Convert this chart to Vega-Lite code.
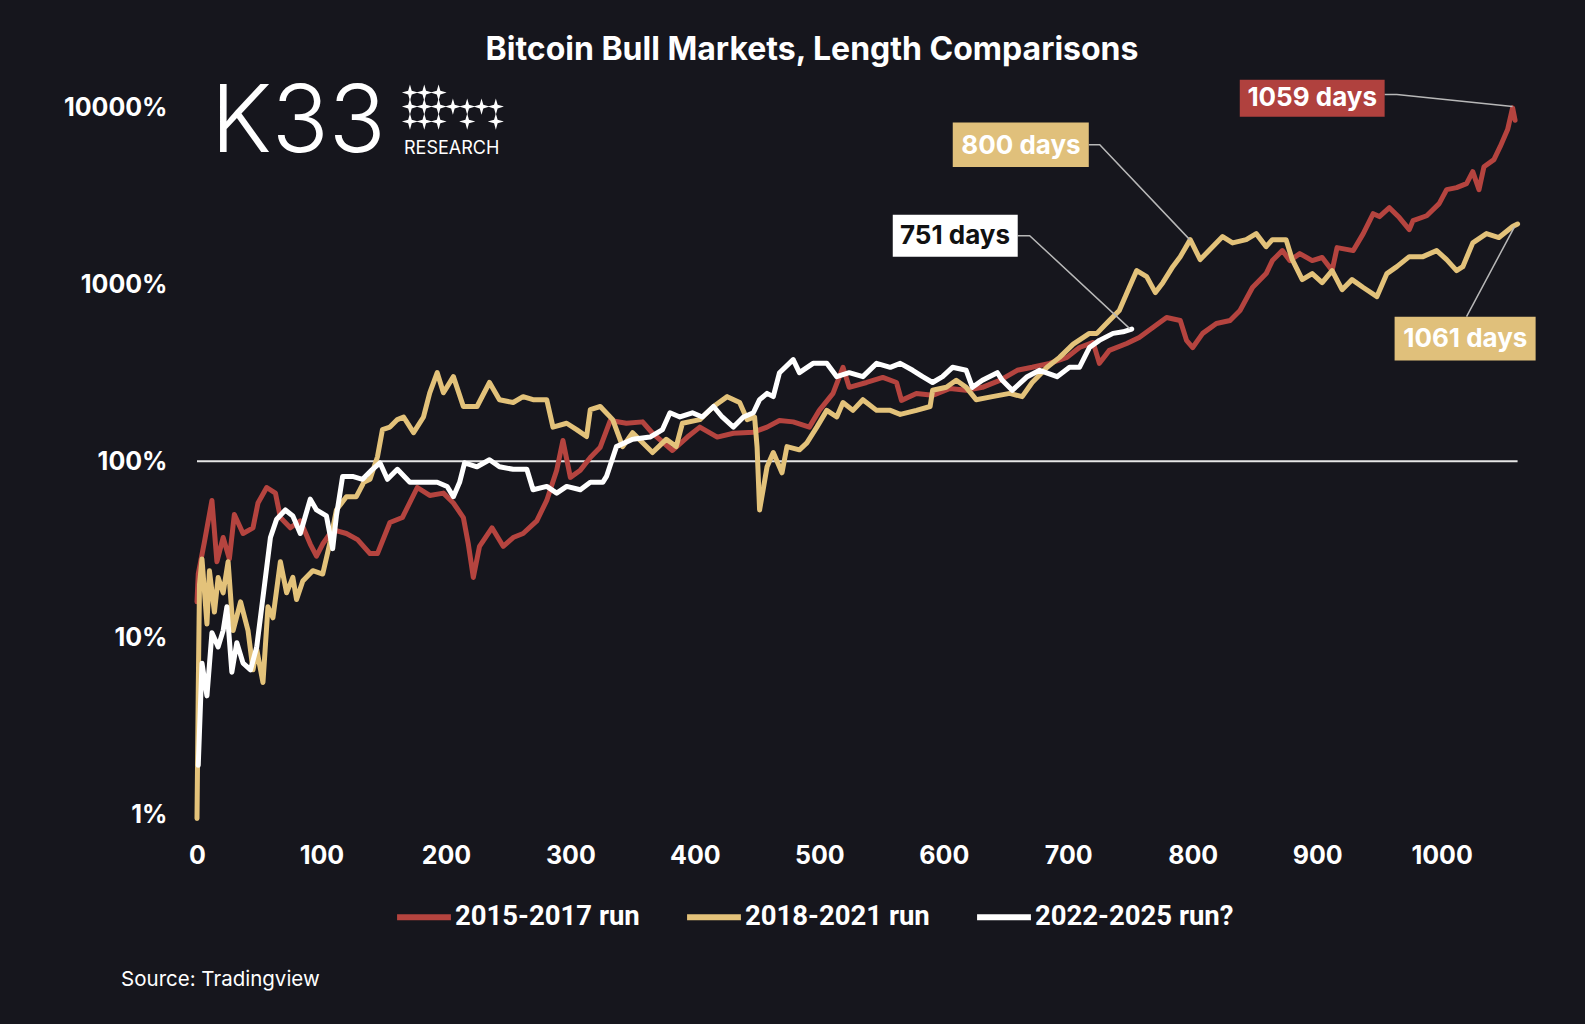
{
"$schema":"https://vega.github.io/schema/vega-lite/v6.json",
"width":1338,"height":760,
"autosize":{"type":"none"},
"padding":{"left":197,"top":82,"right":50,"bottom":182},
"background":"#16161d",
"title":{"text":"Bitcoin Bull Markets, Length Comparisons","color":"#ffffff","font":"Inter","fontSize":32,"fontWeight":"bold","anchor":"middle","frame":"group","dx":-54,"offset":10},
"config":{"view":{"stroke":null}},
"datasets":{
"series":[
{"run":"2015-2017 run","day":0,"pct":16},{"run":"2015-2017 run","day":1,"pct":23},{"run":"2015-2017 run","day":6,"pct":35},{"run":"2015-2017 run","day":12,"pct":60},{"run":"2015-2017 run","day":16,"pct":27},{"run":"2015-2017 run","day":21,"pct":37},{"run":"2015-2017 run","day":26,"pct":28},{"run":"2015-2017 run","day":30,"pct":50},{"run":"2015-2017 run","day":37,"pct":39},{"run":"2015-2017 run","day":45,"pct":42},{"run":"2015-2017 run","day":49,"pct":58},{"run":"2015-2017 run","day":56,"pct":71},{"run":"2015-2017 run","day":63,"pct":66},{"run":"2015-2017 run","day":67,"pct":48},{"run":"2015-2017 run","day":75,"pct":42},{"run":"2015-2017 run","day":83,"pct":46},{"run":"2015-2017 run","day":91,"pct":34},{"run":"2015-2017 run","day":96,"pct":29},{"run":"2015-2017 run","day":101,"pct":34},{"run":"2015-2017 run","day":109,"pct":41},{"run":"2015-2017 run","day":120,"pct":39},{"run":"2015-2017 run","day":129,"pct":36},{"run":"2015-2017 run","day":139,"pct":30},{"run":"2015-2017 run","day":145,"pct":30},{"run":"2015-2017 run","day":155,"pct":45},{"run":"2015-2017 run","day":165,"pct":48},{"run":"2015-2017 run","day":177,"pct":71},{"run":"2015-2017 run","day":187,"pct":64},{"run":"2015-2017 run","day":198,"pct":66},{"run":"2015-2017 run","day":206,"pct":58},{"run":"2015-2017 run","day":214,"pct":48},{"run":"2015-2017 run","day":218,"pct":34},{"run":"2015-2017 run","day":222,"pct":22},{"run":"2015-2017 run","day":227,"pct":33},{"run":"2015-2017 run","day":237,"pct":42},{"run":"2015-2017 run","day":246,"pct":33},{"run":"2015-2017 run","day":254,"pct":37},{"run":"2015-2017 run","day":262,"pct":39},{"run":"2015-2017 run","day":273,"pct":46},{"run":"2015-2017 run","day":281,"pct":60},{"run":"2015-2017 run","day":289,"pct":89},{"run":"2015-2017 run","day":294,"pct":131},{"run":"2015-2017 run","day":300,"pct":81},{"run":"2015-2017 run","day":308,"pct":89},{"run":"2015-2017 run","day":316,"pct":105},{"run":"2015-2017 run","day":324,"pct":120},{"run":"2015-2017 run","day":332,"pct":170},{"run":"2015-2017 run","day":345,"pct":164},{"run":"2015-2017 run","day":358,"pct":167},{"run":"2015-2017 run","day":366,"pct":144},{"run":"2015-2017 run","day":382,"pct":115},{"run":"2015-2017 run","day":394,"pct":137},{"run":"2015-2017 run","day":404,"pct":156},{"run":"2015-2017 run","day":418,"pct":137},{"run":"2015-2017 run","day":431,"pct":144},{"run":"2015-2017 run","day":447,"pct":146},{"run":"2015-2017 run","day":458,"pct":156},{"run":"2015-2017 run","day":468,"pct":170},{"run":"2015-2017 run","day":479,"pct":167},{"run":"2015-2017 run","day":492,"pct":156},{"run":"2015-2017 run","day":500,"pct":194},{"run":"2015-2017 run","day":511,"pct":242},{"run":"2015-2017 run","day":519,"pct":340},{"run":"2015-2017 run","day":524,"pct":262},{"run":"2015-2017 run","day":538,"pct":279},{"run":"2015-2017 run","day":551,"pct":298},{"run":"2015-2017 run","day":562,"pct":279},{"run":"2015-2017 run","day":566,"pct":221},{"run":"2015-2017 run","day":578,"pct":242},{"run":"2015-2017 run","day":591,"pct":236},{"run":"2015-2017 run","day":605,"pct":258},{"run":"2015-2017 run","day":618,"pct":252},{"run":"2015-2017 run","day":631,"pct":262},{"run":"2015-2017 run","day":645,"pct":287},{"run":"2015-2017 run","day":659,"pct":327},{"run":"2015-2017 run","day":671,"pct":340},{"run":"2015-2017 run","day":685,"pct":358},{"run":"2015-2017 run","day":699,"pct":387},{"run":"2015-2017 run","day":709,"pct":440},{"run":"2015-2017 run","day":720,"pct":470},{"run":"2015-2017 run","day":725,"pct":358},{"run":"2015-2017 run","day":733,"pct":424},{"run":"2015-2017 run","day":747,"pct":464},{"run":"2015-2017 run","day":757,"pct":502},{"run":"2015-2017 run","day":768,"pct":571},{"run":"2015-2017 run","day":779,"pct":651},{"run":"2015-2017 run","day":790,"pct":626},{"run":"2015-2017 run","day":795,"pct":483},{"run":"2015-2017 run","day":800,"pct":440},{"run":"2015-2017 run","day":808,"pct":529},{"run":"2015-2017 run","day":819,"pct":602},{"run":"2015-2017 run","day":830,"pct":626},{"run":"2015-2017 run","day":838,"pct":713},{"run":"2015-2017 run","day":848,"pct":962},{"run":"2015-2017 run","day":859,"pct":1153},{"run":"2015-2017 run","day":864,"pct":1366},{"run":"2015-2017 run","day":872,"pct":1556},{"run":"2015-2017 run","day":878,"pct":1366},{"run":"2015-2017 run","day":886,"pct":1496},{"run":"2015-2017 run","day":896,"pct":1366},{"run":"2015-2017 run","day":904,"pct":1422},{"run":"2015-2017 run","day":912,"pct":1199},{"run":"2015-2017 run","day":916,"pct":1618},{"run":"2015-2017 run","day":929,"pct":1556},{"run":"2015-2017 run","day":937,"pct":1941},{"run":"2015-2017 run","day":945,"pct":2518},{"run":"2015-2017 run","day":950,"pct":2423},{"run":"2015-2017 run","day":958,"pct":2723},{"run":"2015-2017 run","day":966,"pct":2392},{"run":"2015-2017 run","day":974,"pct":2045},{"run":"2015-2017 run","day":977,"pct":2300},{"run":"2015-2017 run","day":988,"pct":2450},{"run":"2015-2017 run","day":998,"pct":2870},{"run":"2015-2017 run","day":1004,"pct":3444},{"run":"2015-2017 run","day":1012,"pct":3533},{"run":"2015-2017 run","day":1020,"pct":3722},{"run":"2015-2017 run","day":1025,"pct":4355},{"run":"2015-2017 run","day":1030,"pct":3444},{"run":"2015-2017 run","day":1034,"pct":4645},{"run":"2015-2017 run","day":1042,"pct":5093},{"run":"2015-2017 run","day":1047,"pct":6030},{"run":"2015-2017 run","day":1053,"pct":7530},{"run":"2015-2017 run","day":1057,"pct":10000},{"run":"2015-2017 run","day":1059,"pct":8500},
{"run":"2018-2021 run","day":0,"pct":0.95},{"run":"2018-2021 run","day":1,"pct":5},{"run":"2018-2021 run","day":2,"pct":20},{"run":"2018-2021 run","day":4,"pct":28},{"run":"2018-2021 run","day":8,"pct":12},{"run":"2018-2021 run","day":10,"pct":24},{"run":"2018-2021 run","day":14,"pct":14},{"run":"2018-2021 run","day":17,"pct":22},{"run":"2018-2021 run","day":21,"pct":18},{"run":"2018-2021 run","day":25,"pct":27},{"run":"2018-2021 run","day":29,"pct":11},{"run":"2018-2021 run","day":35,"pct":16},{"run":"2018-2021 run","day":41,"pct":11},{"run":"2018-2021 run","day":45,"pct":6.6},{"run":"2018-2021 run","day":48,"pct":8.6},{"run":"2018-2021 run","day":53,"pct":5.6},{"run":"2018-2021 run","day":57,"pct":15},{"run":"2018-2021 run","day":61,"pct":13},{"run":"2018-2021 run","day":67,"pct":27},{"run":"2018-2021 run","day":72,"pct":18},{"run":"2018-2021 run","day":77,"pct":22},{"run":"2018-2021 run","day":80,"pct":16.5},{"run":"2018-2021 run","day":85,"pct":21},{"run":"2018-2021 run","day":93,"pct":24},{"run":"2018-2021 run","day":101,"pct":23},{"run":"2018-2021 run","day":107,"pct":35},{"run":"2018-2021 run","day":112,"pct":53},{"run":"2018-2021 run","day":120,"pct":63},{"run":"2018-2021 run","day":128,"pct":63},{"run":"2018-2021 run","day":134,"pct":76},{"run":"2018-2021 run","day":139,"pct":79},{"run":"2018-2021 run","day":145,"pct":106},{"run":"2018-2021 run","day":149,"pct":151},{"run":"2018-2021 run","day":155,"pct":156},{"run":"2018-2021 run","day":161,"pct":172},{"run":"2018-2021 run","day":166,"pct":178},{"run":"2018-2021 run","day":174,"pct":145},{"run":"2018-2021 run","day":182,"pct":178},{"run":"2018-2021 run","day":187,"pct":244},{"run":"2018-2021 run","day":193,"pct":317},{"run":"2018-2021 run","day":198,"pct":244},{"run":"2018-2021 run","day":206,"pct":301},{"run":"2018-2021 run","day":214,"pct":204},{"run":"2018-2021 run","day":225,"pct":204},{"run":"2018-2021 run","day":235,"pct":279},{"run":"2018-2021 run","day":243,"pct":223},{"run":"2018-2021 run","day":254,"pct":215},{"run":"2018-2021 run","day":262,"pct":232},{"run":"2018-2021 run","day":270,"pct":223},{"run":"2018-2021 run","day":281,"pct":223},{"run":"2018-2021 run","day":286,"pct":156},{"run":"2018-2021 run","day":297,"pct":164},{"run":"2018-2021 run","day":305,"pct":151},{"run":"2018-2021 run","day":313,"pct":138},{"run":"2018-2021 run","day":316,"pct":196},{"run":"2018-2021 run","day":324,"pct":204},{"run":"2018-2021 run","day":334,"pct":172},{"run":"2018-2021 run","day":342,"pct":121},{"run":"2018-2021 run","day":350,"pct":145},{"run":"2018-2021 run","day":366,"pct":112},{"run":"2018-2021 run","day":377,"pct":133},{"run":"2018-2021 run","day":385,"pct":121},{"run":"2018-2021 run","day":390,"pct":164},{"run":"2018-2021 run","day":404,"pct":172},{"run":"2018-2021 run","day":415,"pct":204},{"run":"2018-2021 run","day":426,"pct":232},{"run":"2018-2021 run","day":436,"pct":215},{"run":"2018-2021 run","day":442,"pct":172},{"run":"2018-2021 run","day":448,"pct":178},{"run":"2018-2021 run","day":450,"pct":120},{"run":"2018-2021 run","day":452,"pct":53},{"run":"2018-2021 run","day":455,"pct":70},{"run":"2018-2021 run","day":458,"pct":93},{"run":"2018-2021 run","day":463,"pct":112},{"run":"2018-2021 run","day":470,"pct":86},{"run":"2018-2021 run","day":474,"pct":121},{"run":"2018-2021 run","day":484,"pct":116},{"run":"2018-2021 run","day":490,"pct":127},{"run":"2018-2021 run","day":498,"pct":156},{"run":"2018-2021 run","day":506,"pct":194},{"run":"2018-2021 run","day":514,"pct":178},{"run":"2018-2021 run","day":519,"pct":215},{"run":"2018-2021 run","day":527,"pct":194},{"run":"2018-2021 run","day":535,"pct":223},{"run":"2018-2021 run","day":546,"pct":194},{"run":"2018-2021 run","day":557,"pct":194},{"run":"2018-2021 run","day":565,"pct":184},{"run":"2018-2021 run","day":578,"pct":194},{"run":"2018-2021 run","day":589,"pct":204},{"run":"2018-2021 run","day":591,"pct":252},{"run":"2018-2021 run","day":602,"pct":262},{"run":"2018-2021 run","day":610,"pct":287},{"run":"2018-2021 run","day":618,"pct":262},{"run":"2018-2021 run","day":626,"pct":223},{"run":"2018-2021 run","day":639,"pct":232},{"run":"2018-2021 run","day":653,"pct":242},{"run":"2018-2021 run","day":663,"pct":232},{"run":"2018-2021 run","day":671,"pct":279},{"run":"2018-2021 run","day":683,"pct":340},{"run":"2018-2021 run","day":693,"pct":387},{"run":"2018-2021 run","day":704,"pct":460},{"run":"2018-2021 run","day":717,"pct":529},{"run":"2018-2021 run","day":723,"pct":529},{"run":"2018-2021 run","day":733,"pct":626},{"run":"2018-2021 run","day":741,"pct":713},{"run":"2018-2021 run","day":749,"pct":962},{"run":"2018-2021 run","day":755,"pct":1199},{"run":"2018-2021 run","day":763,"pct":1109},{"run":"2018-2021 run","day":770,"pct":900},{"run":"2018-2021 run","day":776,"pct":1025},{"run":"2018-2021 run","day":784,"pct":1262},{"run":"2018-2021 run","day":790,"pct":1438},{"run":"2018-2021 run","day":798,"pct":1795},{"run":"2018-2021 run","day":806,"pct":1383},{"run":"2018-2021 run","day":816,"pct":1638},{"run":"2018-2021 run","day":824,"pct":1867},{"run":"2018-2021 run","day":832,"pct":1720},{"run":"2018-2021 run","day":843,"pct":1795},{"run":"2018-2021 run","day":851,"pct":1941},{"run":"2018-2021 run","day":859,"pct":1638},{"run":"2018-2021 run","day":864,"pct":1795},{"run":"2018-2021 run","day":875,"pct":1795},{"run":"2018-2021 run","day":880,"pct":1383},{"run":"2018-2021 run","day":888,"pct":1066},{"run":"2018-2021 run","day":896,"pct":1153},{"run":"2018-2021 run","day":904,"pct":1025},{"run":"2018-2021 run","day":912,"pct":1199},{"run":"2018-2021 run","day":920,"pct":935},{"run":"2018-2021 run","day":928,"pct":1066},{"run":"2018-2021 run","day":937,"pct":962},{"run":"2018-2021 run","day":948,"pct":855},{"run":"2018-2021 run","day":956,"pct":1153},{"run":"2018-2021 run","day":964,"pct":1262},{"run":"2018-2021 run","day":974,"pct":1438},{"run":"2018-2021 run","day":985,"pct":1438},{"run":"2018-2021 run","day":996,"pct":1556},{"run":"2018-2021 run","day":1004,"pct":1383},{"run":"2018-2021 run","day":1012,"pct":1199},{"run":"2018-2021 run","day":1017,"pct":1262},{"run":"2018-2021 run","day":1025,"pct":1720},{"run":"2018-2021 run","day":1036,"pct":1941},{"run":"2018-2021 run","day":1046,"pct":1845},{"run":"2018-2021 run","day":1057,"pct":2128},{"run":"2018-2021 run","day":1061,"pct":2200},
{"run":"2022-2025 run?","day":1,"pct":1.9},{"run":"2022-2025 run?","day":4,"pct":7.2},{"run":"2022-2025 run?","day":8,"pct":4.7},{"run":"2022-2025 run?","day":12,"pct":10.7},{"run":"2022-2025 run?","day":17,"pct":8.9},{"run":"2022-2025 run?","day":21,"pct":11},{"run":"2022-2025 run?","day":24,"pct":15},{"run":"2022-2025 run?","day":28,"pct":6.4},{"run":"2022-2025 run?","day":32,"pct":9.4},{"run":"2022-2025 run?","day":37,"pct":7.2},{"run":"2022-2025 run?","day":43,"pct":6.6},{"run":"2022-2025 run?","day":48,"pct":8.9},{"run":"2022-2025 run?","day":53,"pct":17},{"run":"2022-2025 run?","day":59,"pct":37},{"run":"2022-2025 run?","day":64,"pct":47},{"run":"2022-2025 run?","day":71,"pct":53},{"run":"2022-2025 run?","day":77,"pct":49},{"run":"2022-2025 run?","day":83,"pct":39},{"run":"2022-2025 run?","day":91,"pct":61},{"run":"2022-2025 run?","day":96,"pct":53},{"run":"2022-2025 run?","day":104,"pct":49},{"run":"2022-2025 run?","day":109,"pct":32},{"run":"2022-2025 run?","day":112,"pct":49},{"run":"2022-2025 run?","day":117,"pct":82},{"run":"2022-2025 run?","day":125,"pct":82},{"run":"2022-2025 run?","day":133,"pct":79},{"run":"2022-2025 run?","day":141,"pct":90},{"run":"2022-2025 run?","day":147,"pct":98},{"run":"2022-2025 run?","day":153,"pct":79},{"run":"2022-2025 run?","day":161,"pct":90},{"run":"2022-2025 run?","day":171,"pct":76},{"run":"2022-2025 run?","day":182,"pct":76},{"run":"2022-2025 run?","day":193,"pct":76},{"run":"2022-2025 run?","day":201,"pct":72},{"run":"2022-2025 run?","day":206,"pct":63},{"run":"2022-2025 run?","day":211,"pct":76},{"run":"2022-2025 run?","day":215,"pct":98},{"run":"2022-2025 run?","day":225,"pct":93},{"run":"2022-2025 run?","day":235,"pct":102},{"run":"2022-2025 run?","day":243,"pct":93},{"run":"2022-2025 run?","day":254,"pct":90},{"run":"2022-2025 run?","day":265,"pct":90},{"run":"2022-2025 run?","day":270,"pct":69},{"run":"2022-2025 run?","day":281,"pct":72},{"run":"2022-2025 run?","day":289,"pct":66},{"run":"2022-2025 run?","day":297,"pct":72},{"run":"2022-2025 run?","day":308,"pct":69},{"run":"2022-2025 run?","day":316,"pct":76},{"run":"2022-2025 run?","day":326,"pct":76},{"run":"2022-2025 run?","day":329,"pct":82},{"run":"2022-2025 run?","day":337,"pct":121},{"run":"2022-2025 run?","day":350,"pct":133},{"run":"2022-2025 run?","day":364,"pct":137},{"run":"2022-2025 run?","day":374,"pct":151},{"run":"2022-2025 run?","day":380,"pct":188},{"run":"2022-2025 run?","day":388,"pct":178},{"run":"2022-2025 run?","day":398,"pct":188},{"run":"2022-2025 run?","day":406,"pct":178},{"run":"2022-2025 run?","day":415,"pct":204},{"run":"2022-2025 run?","day":422,"pct":178},{"run":"2022-2025 run?","day":431,"pct":156},{"run":"2022-2025 run?","day":439,"pct":178},{"run":"2022-2025 run?","day":447,"pct":188},{"run":"2022-2025 run?","day":452,"pct":223},{"run":"2022-2025 run?","day":458,"pct":242},{"run":"2022-2025 run?","day":463,"pct":232},{"run":"2022-2025 run?","day":468,"pct":317},{"run":"2022-2025 run?","day":479,"pct":376},{"run":"2022-2025 run?","day":484,"pct":317},{"run":"2022-2025 run?","day":495,"pct":358},{"run":"2022-2025 run?","day":506,"pct":358},{"run":"2022-2025 run?","day":514,"pct":301},{"run":"2022-2025 run?","day":524,"pct":317},{"run":"2022-2025 run?","day":535,"pct":301},{"run":"2022-2025 run?","day":546,"pct":358},{"run":"2022-2025 run?","day":557,"pct":340},{"run":"2022-2025 run?","day":565,"pct":358},{"run":"2022-2025 run?","day":575,"pct":327},{"run":"2022-2025 run?","day":583,"pct":301},{"run":"2022-2025 run?","day":591,"pct":279},{"run":"2022-2025 run?","day":599,"pct":301},{"run":"2022-2025 run?","day":607,"pct":340},{"run":"2022-2025 run?","day":618,"pct":327},{"run":"2022-2025 run?","day":623,"pct":262},{"run":"2022-2025 run?","day":631,"pct":287},{"run":"2022-2025 run?","day":643,"pct":317},{"run":"2022-2025 run?","day":647,"pct":287},{"run":"2022-2025 run?","day":655,"pct":252},{"run":"2022-2025 run?","day":667,"pct":301},{"run":"2022-2025 run?","day":677,"pct":327},{"run":"2022-2025 run?","day":691,"pct":301},{"run":"2022-2025 run?","day":701,"pct":340},{"run":"2022-2025 run?","day":709,"pct":340},{"run":"2022-2025 run?","day":717,"pct":440},{"run":"2022-2025 run?","day":725,"pct":483},{"run":"2022-2025 run?","day":736,"pct":529},{"run":"2022-2025 run?","day":744,"pct":540},{"run":"2022-2025 run?","day":751,"pct":560}
],
"baseline":[{"day":0,"day2":1061,"pct":100}],
"connectors":[
{"id":"a","ord":0,"day":954,"pct":11880},{"id":"a","ord":1,"day":964,"pct":11880},{"id":"a","ord":2,"day":1057,"pct":10160},
{"id":"b","ord":0,"day":716.5,"pct":6190},{"id":"b","ord":1,"day":725.3,"pct":6190},{"id":"b","ord":2,"day":797.6,"pct":1795},
{"id":"c","ord":0,"day":659.4,"pct":1891},{"id":"c","ord":1,"day":669,"pct":1891},{"id":"c","ord":2,"day":749.4,"pct":563},
{"id":"d","ord":0,"day":1020,"pct":658},{"id":"d","ord":1,"day":1058.6,"pct":2128}
],
"boxes":[
{"run":"2015-2017 run","day":837.8,"day2":954.2,"pct":14440,"pct2":8916},
{"run":"2018-2021 run","day":607.2,"day2":716.5,"pct":8250,"pct2":4630},
{"run":"2022-2025 run?","day":559,"day2":659.4,"pct":2486,"pct2":1438},
{"run":"2018-2021 run","day":962.2,"day2":1075.5,"pct":658,"pct2":371}
],
"labels":[
{"run":"2015-2017 run","label":"1059 days","day":896,"pct":11420},
{"run":"2018-2021 run","label":"800 days","day":662,"pct":6110},
{"run":"2022-2025 run?","label":"751 days","day":609,"pct":1891},
{"run":"2018-2021 run","label":"1061 days","day":1019,"pct":494}
],
"stars":[
{"day":171.1,"pct":12190},{"day":182.6,"pct":12190},{"day":194.1,"pct":12190},
{"day":171.1,"pct":10160},{"day":182.6,"pct":10160},{"day":194.1,"pct":10160},{"day":205.6,"pct":10160},{"day":217.1,"pct":10160},{"day":228.6,"pct":10160},{"day":240.1,"pct":10160},
{"day":171.1,"pct":8360},{"day":182.6,"pct":8360},{"day":194.1,"pct":8360},{"day":217.1,"pct":8360},{"day":240.1,"pct":8360}
],
"logo":[{"text":"K33","day":11.2,"pct":5650}],
"logosub":[{"text":"RESEARCH","day":166.3,"pct":5508}],
"source":[{"text":"Source: Tradingview","day":-61,"pct":0.1164}]
},
"encoding":{
"x":{"field":"day","type":"quantitative","scale":{"domain":[0,1075],"nice":false,"zero":false},
"axis":{"values":[0,100,200,300,400,500,600,700,800,900,1000],"format":"d","labelFlush":false,"labelOverlap":false,"title":null,"grid":false,"domain":false,"ticks":false,"tickSize":0,"labelPadding":1,"labelFont":"Inter","labelFontSize":25,"labelFontWeight":"bold","labelColor":"#ffffff"}},
"y":{"field":"pct","type":"quantitative","scale":{"type":"log","domain":[0.7,14000],"nice":false},
"axis":{"values":[1,10,100,1000,10000],"labelExpr":"datum.value + '%'","labelFlush":false,"labelOverlap":false,"title":null,"grid":false,"domain":false,"ticks":false,"tickSize":0,"labelPadding":30,"labelFont":"Inter","labelFontSize":25,"labelFontWeight":"bold","labelColor":"#ffffff"}}
},
"layer":[
{"data":{"name":"baseline"},"mark":{"type":"rule","color":"#e6e6e6","strokeWidth":2},"encoding":{"x2":{"field":"day2"}}},
{"data":{"name":"series"},"mark":{"type":"line","strokeWidth":5,"strokeJoin":"round","strokeCap":"round"},
"encoding":{"color":{"field":"run","type":"nominal","scale":{"domain":["2015-2017 run","2018-2021 run","2022-2025 run?"],"range":["#b5443f","#e3c27a","#ffffff"]},
"legend":{"orient":"none","legendX":197,"legendY":805,"direction":"horizontal","title":null,"symbolType":"stroke","symbolSize":2900,"symbolStrokeWidth":6,"labelFont":"Roboto","labelFontSize":27.5,"labelFontWeight":"bold","labelColor":"#ffffff","columnPadding":35,"labelOffset":1,"labelLimit":400}}}},
{"data":{"name":"connectors"},"mark":{"type":"line","color":"#b8b8b8","strokeWidth":1.5},"encoding":{"detail":{"field":"id"},"order":{"field":"ord","type":"quantitative"}}},
{"data":{"name":"boxes"},"mark":{"type":"rect"},"encoding":{"x2":{"field":"day2"},"y2":{"field":"pct2"},
"fill":{"field":"run","type":"nominal","scale":{"domain":["2015-2017 run","2018-2021 run","2022-2025 run?"],"range":["#b0413e","#e0c07b","#ffffff"]},"legend":null}}},
{"data":{"name":"labels"},"mark":{"type":"text","font":"Inter","fontSize":26,"fontWeight":"bold","align":"center","baseline":"middle"},
"encoding":{"text":{"field":"label"},"color":{"condition":{"test":"datum.run === '2022-2025 run?'","value":"#111111"},"value":"#ffffff"}}},
{"data":{"name":"stars"},"mark":{"type":"point","shape":"M0,-1L0.22,-0.22L1,0L0.22,0.22L0,1L-0.22,0.22L-1,0L-0.22,-0.22Z","filled":true,"color":"#ffffff","opacity":1,"size":260}},
{"data":{"name":"logo"},"mark":{"type":"text","font":"Inter","fontSize":94,"fontWeight":300,"align":"left","baseline":"alphabetic","color":"#ffffff"},"encoding":{"text":{"field":"text"}}},
{"data":{"name":"logosub"},"mark":{"type":"text","font":"Inter","fontSize":18,"fontWeight":400,"align":"left","baseline":"alphabetic","color":"#ffffff"},"encoding":{"text":{"field":"text"}}},
{"data":{"name":"source"},"mark":{"type":"text","font":"Inter","fontSize":20.5,"align":"left","baseline":"middle","color":"#ffffff"},"encoding":{"text":{"field":"text"}}}
]
}
